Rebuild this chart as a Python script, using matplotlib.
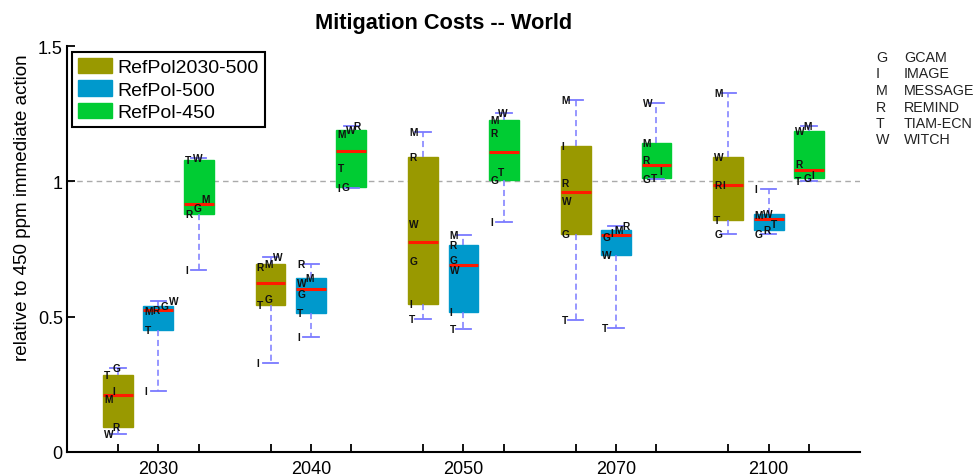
import numpy as np
import matplotlib
matplotlib.use('Agg')
import matplotlib.pyplot as plt
from matplotlib.patches import Patch

plt.rcParams['font.family'] = ['Liberation Sans', 'DejaVu Sans']

years = ['2030', '2040', '2050', '2070', '2100']
scenarios = ['RefPol2030-500', 'RefPol-500', 'RefPol-450']
scenario_colors = ['#999900', '#0099cc', '#00cc33']
model_codes = ['G', 'I', 'M', 'R', 'T', 'W']
model_names = ['GCAM', 'IMAGE', 'MESSAGE', 'REMIND', 'TIAM-ECN', 'WITCH']

# values per year, models in order G, I, M, R, T, W
refpol2030_500 = [
    [0.311, 0.226, 0.197, 0.092, 0.284, 0.068],
    [0.565, 0.330, 0.696, 0.684, 0.542, 0.721],
    [0.706, 0.546, 1.184, 1.089, 0.493, 0.844],
    [0.807, 1.131, 1.301, 0.993, 0.486, 0.927],
    [0.807, 0.986, 1.328, 0.986, 0.857, 1.091],
]
refpol_500 = [
    [0.538, 0.225, 0.520, 0.526, 0.452, 0.558],
    [0.583, 0.425, 0.644, 0.694, 0.515, 0.625],
    [0.710, 0.517, 0.801, 0.766, 0.456, 0.672],
    [0.795, 0.808, 0.820, 0.835, 0.459, 0.727],
    [0.805, 0.970, 0.876, 0.822, 0.842, 0.879],
]
refpol_450 = [
    [0.900, 0.674, 0.933, 0.879, 1.077, 1.085],
    [0.980, 0.976, 1.175, 1.206, 1.048, 1.188],
    [1.004, 0.851, 1.228, 1.178, 1.036, 1.252],
    [1.007, 1.040, 1.143, 1.077, 1.012, 1.289],
    [1.012, 1.023, 1.205, 1.063, 1.003, 1.186],
]
series = [refpol2030_500, refpol_500, refpol_450]

W, H = 976, 477
fig = plt.figure(figsize=(W / 100, H / 100), dpi=100)
ax = fig.add_axes([67 / W, 1 - 453 / H, (860 - 67) / W, (453 - 47) / H])

group_step = 3.77
box_w = 0.74
positions_all, ticklabels = [], []
for g, yr in enumerate(years):
    for k in range(3):
        pos = g * group_step + (k - 1)
        positions_all.append(pos)
        ticklabels.append(yr if k == 1 else '')

ax.axhline(1.0, color='#aaaaaa', lw=1.0, ls=(0, (4, 3)), zorder=0.5)

for k, (data, col) in enumerate(zip(series, scenario_colors)):
    stats, pos_list = [], []
    for g in range(len(years)):
        vals = np.array(data[g])
        q1, med, q3 = np.percentile(vals, [25, 50, 75], method='hazen')
        stats.append(dict(whislo=vals.min(), q1=q1, med=med, q3=q3,
                          whishi=vals.max(), fliers=[]))
        pos_list.append(g * group_step + (k - 1))
    ax.bxp(stats, positions=pos_list, widths=box_w, patch_artist=True,
           showfliers=False, capwidths=0.375,
           boxprops=dict(facecolor=col, edgecolor=col, lw=1),
           whiskerprops=dict(color='#7a7aff', lw=1.1, ls=(0, (4, 2.5))),
           capprops=dict(color='#7a7aff', lw=1.3),
           medianprops=dict(color='#ff1a00', lw=2.2),
           manage_ticks=False, zorder=2)
    # model letters
    for g in range(len(years)):
        pos = g * group_step + (k - 1)
        vals = data[g]
        order = np.argsort(vals)
        placed = []
        for i in order:
            v = vals[i]
            shift = 0.0
            for (pv, ps, pw) in placed:
                if abs(pv - v) < 0.034:
                    shift = max(shift, ps + pw)
            w = 0.1 if model_codes[i] == 'I' else 0.2
            placed.append((v, shift, w))
            ax.text(pos - box_w / 2 + 0.03 + shift, v, model_codes[i],
                    ha='left', va='center', fontsize=7.3, fontweight='bold',
                    color='#111111', zorder=5)

ax.set_xlim(-2.26, 4 * group_step + 1 + 1.26)
ax.set_ylim(0, 1.5)
ax.set_xticks(positions_all)
ax.set_xticklabels(ticklabels)
ax.set_yticks([0, 0.5, 1, 1.5])
ax.set_yticklabels(['0', '0.5', '1', '1.5'])
ax.tick_params(direction='in', length=6, width=1.3, labelsize=13, pad=6)
ax.tick_params(axis='y', pad=3)
for s in ['top', 'right']:
    ax.spines[s].set_visible(False)
for s in ['left', 'bottom']:
    ax.spines[s].set_linewidth(1.5)

handles = [Patch(facecolor=c, edgecolor=c) for c in scenario_colors]
leg = ax.legend(handles, scenarios, loc='upper left',
                bbox_to_anchor=(72 / W, 1 - 53 / H), bbox_transform=fig.transFigure,
                fontsize=14, handlelength=1.75, handleheight=0.85,
                handletextpad=0.3, borderpad=0.3, labelspacing=0.2,
                borderaxespad=0, fancybox=False, framealpha=1)
leg.get_frame().set_edgecolor('black')
leg.get_frame().set_linewidth(1.5)

fig.text(444 / W, 1 - 23 / H, 'Mitigation Costs -- World', ha='center', va='center',
         fontsize=15.7, fontweight='bold')
fig.text(23 / W, 1 - 208 / H, 'relative to 450 ppm immediate action', ha='center',
         va='center', rotation=90, fontsize=13.6)

for i, (c, n) in enumerate(zip(model_codes, model_names)):
    y = 58 + i * 16.5
    fig.text(876 / W, 1 - y / H, c, ha='left', va='center', fontsize=10.3, color='#222222')
    fig.text(904 / W, 1 - y / H, n, ha='left', va='center', fontsize=10.3, color='#222222')

fig.savefig('out.png', dpi=100)
